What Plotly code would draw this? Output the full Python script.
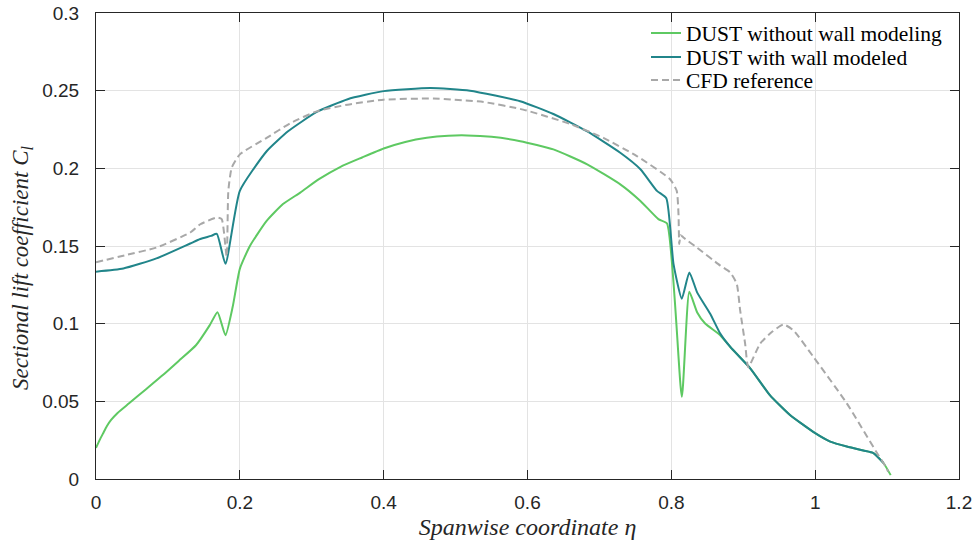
import plotly.graph_objects as go

# DUST without wall modeling
eta_nowall = [0.000, 0.005, 0.010, 0.015, 0.021, 0.030, 0.046, 0.070, 0.093, 0.115,
              0.139, 0.158, 0.169, 0.180, 0.190, 0.200, 0.214, 0.237, 0.260, 0.284,
              0.310, 0.340, 0.370, 0.400, 0.430, 0.460, 0.490, 0.516, 0.550, 0.590,
              0.636, 0.683, 0.729, 0.757, 0.782, 0.794, 0.8146, 0.825, 0.836, 0.847,
              0.868, 0.882, 0.910, 0.937, 0.965, 1.000, 1.021, 1.044, 1.067, 1.081,
              1.095, 1.105]
cl_nowall = [0.0200, 0.0250, 0.0295, 0.0340, 0.0380, 0.0425, 0.0487, 0.0580, 0.0669, 0.0760,
             0.0861, 0.0989, 0.1074, 0.0925, 0.1107, 0.1353, 0.1500, 0.1660, 0.1770, 0.1844,
             0.1930, 0.2010, 0.2070, 0.2128, 0.2170, 0.2197, 0.2210, 0.2212, 0.2203, 0.2175,
             0.2122, 0.2026, 0.1897, 0.1790, 0.1673, 0.1645, 0.0529, 0.1205, 0.1072, 0.1001,
             0.0926, 0.0850, 0.0711, 0.0540, 0.0412, 0.0295, 0.0241, 0.0209, 0.0183, 0.0167,
             0.0103, 0.0025]

# DUST with wall modeled
eta_wall = [0.000, 0.038, 0.084, 0.131, 0.145, 0.160, 0.168, 0.180, 0.200, 0.2373,
            0.2675, 0.307, 0.350, 0.400, 0.465, 0.520, 0.5897, 0.636, 0.6825, 0.729,
            0.757, 0.780, 0.793, 0.803, 0.8146, 0.825, 0.836, 0.854, 0.868, 0.882,
            0.910, 0.937, 0.965, 1.000, 1.021, 1.044, 1.067, 1.081, 1.095]
cl_wall = [0.1335, 0.1355, 0.1420, 0.1516, 0.1545, 0.1565, 0.1578, 0.1385, 0.1855, 0.2110,
           0.2240, 0.2363, 0.2445, 0.2497, 0.2517, 0.2500, 0.2432, 0.2350, 0.2239, 0.2100,
           0.1994, 0.1855, 0.1808, 0.1385, 0.1160, 0.1330, 0.1200, 0.1064, 0.0936, 0.0850,
           0.0711, 0.0540, 0.0412, 0.0295, 0.0241, 0.0209, 0.0183, 0.0167, 0.0103]

# CFD reference
eta_cfd = [0.000, 0.040, 0.084, 0.131, 0.145, 0.168, 0.1748, 0.1817, 0.1840, 0.1887,
           0.200, 0.2373, 0.270, 0.307, 0.350, 0.400, 0.469, 0.539, 0.594, 0.659,
           0.7056, 0.752, 0.7983, 0.8075, 0.8100, 0.8110, 0.8130, 0.8167, 0.8355, 0.868,
           0.8818, 0.891, 0.8957, 0.9026, 0.907, 0.9235, 0.9397, 0.9559, 0.9698, 0.9976,
           1.044, 1.086, 1.098, 1.1015]
cl_cfd = [0.1395, 0.1440, 0.1490, 0.1587, 0.1640, 0.1683, 0.1673, 0.1430, 0.1855, 0.2004,
          0.2090, 0.2196, 0.2290, 0.2367, 0.2410, 0.2442, 0.2449, 0.2427, 0.2378, 0.2286,
          0.2196, 0.2079, 0.1930, 0.1855, 0.1700, 0.1513, 0.1570, 0.1555, 0.1490, 0.1374,
          0.1330, 0.1256, 0.1085, 0.0872, 0.0720, 0.0872, 0.0946, 0.0995, 0.0957, 0.0786,
          0.0487, 0.0167, 0.0080, 0.0047]

x_ticks = [0, 0.2, 0.4, 0.6, 0.8, 1, 1.2]
x_tick_labels = ["0", "0.2", "0.4", "0.6", "0.8", "1", "1.2"]
y_ticks = [0, 0.05, 0.1, 0.15, 0.2, 0.25, 0.3]
y_tick_labels = ["0", "0.05", "0.1", "0.15", "0.2", "0.25", "0.3"]

fig = go.Figure()
fig.add_trace(go.Scatter(x=eta_nowall, y=cl_nowall, mode="lines",
                         name="DUST without wall modeling", legend="legend",
                         line=dict(color="#5EC962", width=2, shape="spline", smoothing=0.5)))
fig.add_trace(go.Scatter(x=eta_wall, y=cl_wall, mode="lines",
                         name="DUST with wall modeled", legend="legend2",
                         line=dict(color="#21858A", width=2, shape="spline", smoothing=0.5)))
fig.add_trace(go.Scatter(x=eta_cfd, y=cl_cfd, mode="lines",
                         name="CFD reference", legend="legend3",
                         line=dict(color="#A8A8A8", width=2, dash="7px,4px",
                                   shape="spline", smoothing=0.5)))

axis_common = dict(
    showline=True, linecolor="#262626", linewidth=1, mirror="ticks",
    ticks="inside", ticklen=9, tickwidth=1, tickcolor="#262626",
    showgrid=True, gridcolor="#E3E3E3", gridwidth=1, zeroline=False,
    automargin=False,
    tickfont=dict(family="Liberation Sans, Arial, sans-serif", size=19, color="#262626"),
)

fig.update_xaxes(range=[0, 1.2], tickvals=x_ticks, ticktext=x_tick_labels,
                 ticklabelstandoff=6,
                 title=dict(text="<i>Spanwise coordinate η</i>",
                            font=dict(family="Liberation Serif, serif", size=24, color="#262626"),
                            standoff=6),
                 **axis_common)
fig.update_yaxes(range=[0, 0.3], tickvals=y_ticks, ticktext=y_tick_labels,
                 ticklabelstandoff=12, **axis_common)

leg_common = dict(xanchor="left", yanchor="middle", bgcolor="rgba(255,255,255,0)",
                  borderwidth=0, itemwidth=30,
                  font=dict(family="Liberation Serif, serif", size=21.5, color="#000000"))
plot_h = 542 - 13 - 63
row_y = [33, 57, 80]
leg_x = (646 - 96) / (974 - 96 - 15)

fig.update_layout(
    width=974, height=542,
    margin=dict(l=96, r=15, t=13, b=63, autoexpand=False),
    plot_bgcolor="white", paper_bgcolor="white",
    showlegend=True,
    legend=dict(x=leg_x, y=1 - (row_y[0] - 13) / plot_h, **leg_common),
    legend2=dict(x=leg_x, y=1 - (row_y[1] - 13) / plot_h, **leg_common),
    legend3=dict(x=leg_x, y=1 - (row_y[2] - 13) / plot_h, **leg_common),
    annotations=[dict(
        text="<i>Sectional lift coefficient C<sub>l</sub></i>",
        xref="paper", yref="paper", x=(22 - 96) / (974 - 96 - 15), y=(479 - 247) / plot_h,
        xanchor="center", yanchor="middle", textangle=-90, showarrow=False, yshift=-21,
        font=dict(family="Liberation Serif, serif", size=23, color="#262626"),
    )],
)

fig.write_html("out.html")
